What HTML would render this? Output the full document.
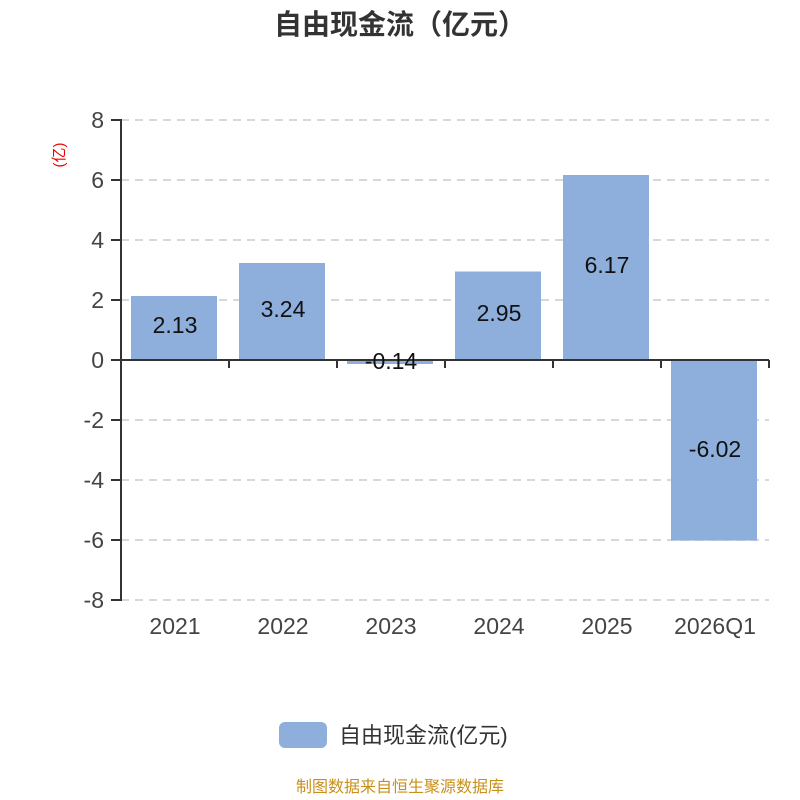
<!DOCTYPE html>
<html><head><meta charset="utf-8"><style>
body{margin:0;background:#fff}
svg{display:block}
text{font-family:"Liberation Sans","Noto Sans CJK SC",sans-serif}
</style></head><body>
<svg width="800" height="800" viewBox="0 0 800 800" xmlns="http://www.w3.org/2000/svg">
<text x="400" y="34" text-anchor="middle" font-size="28" font-weight="bold" fill="#333">自由现金流（亿元）</text>
<text transform="translate(64,155) rotate(-90)" text-anchor="middle" font-size="15" fill="#e00">(亿)</text>
<g stroke="#ccc" stroke-dasharray="8,6" stroke-width="1.5">
<line x1="121" y1="120" x2="769" y2="120"/><line x1="121" y1="180" x2="769" y2="180"/>
<line x1="121" y1="240" x2="769" y2="240"/><line x1="121" y1="300" x2="769" y2="300"/>
<line x1="121" y1="420" x2="769" y2="420"/><line x1="121" y1="480" x2="769" y2="480"/>
<line x1="121" y1="540" x2="769" y2="540"/><line x1="121" y1="600" x2="769" y2="600"/>
</g>
<g fill="#8eaedb">
<rect x="131" y="296" width="86" height="64"/>
<rect x="239" y="263" width="86" height="97"/>
<rect x="347" y="360" width="86" height="4"/>
<rect x="455" y="271.5" width="86" height="88.5"/>
<rect x="563" y="175" width="86" height="185"/>
<rect x="671" y="360" width="86" height="180.6"/>
</g>
<g stroke="#333" stroke-width="2">
<line x1="121" y1="119" x2="121" y2="601"/>
<line x1="121" y1="360" x2="769" y2="360"/>
<line x1="111" y1="120" x2="121" y2="120"/><line x1="111" y1="180" x2="121" y2="180"/>
<line x1="111" y1="240" x2="121" y2="240"/><line x1="111" y1="300" x2="121" y2="300"/>
<line x1="111" y1="360" x2="121" y2="360"/><line x1="111" y1="420" x2="121" y2="420"/>
<line x1="111" y1="480" x2="121" y2="480"/><line x1="111" y1="540" x2="121" y2="540"/>
<line x1="111" y1="600" x2="121" y2="600"/>
<line x1="229" y1="360" x2="229" y2="368"/><line x1="337" y1="360" x2="337" y2="368"/>
<line x1="445" y1="360" x2="445" y2="368"/><line x1="553" y1="360" x2="553" y2="368"/>
<line x1="661" y1="360" x2="661" y2="368"/><line x1="769" y1="360" x2="769" y2="368"/>
</g>
<g font-size="23" fill="#444" text-anchor="end">
<text x="104" y="128">8</text><text x="104" y="188">6</text><text x="104" y="248">4</text>
<text x="104" y="308">2</text><text x="104" y="368">0</text><text x="104" y="428">-2</text>
<text x="104" y="488">-4</text><text x="104" y="548">-6</text><text x="104" y="608">-8</text>
</g>
<g font-size="23" fill="#444" text-anchor="middle">
<text x="175" y="634">2021</text><text x="283" y="634">2022</text><text x="391" y="634">2023</text>
<text x="499" y="634">2024</text><text x="607" y="634">2025</text><text x="715" y="634">2026Q1</text>
</g>
<g font-size="23" fill="#111" text-anchor="middle">
<text x="175" y="333">2.13</text><text x="283" y="317">3.24</text><text x="391" y="369">-0.14</text>
<text x="499" y="321">2.95</text><text x="607" y="273">6.17</text><text x="715" y="457">-6.02</text>
</g>
<rect x="279" y="722" width="48" height="26" rx="6" fill="#8eaedb"/>
<text x="339" y="743" font-size="22" fill="#333">自由现金流(亿元)</text>
<text x="400" y="792" text-anchor="middle" font-size="16" fill="#c8901a">制图数据来自恒生聚源数据库</text>
</svg>
</body></html>
